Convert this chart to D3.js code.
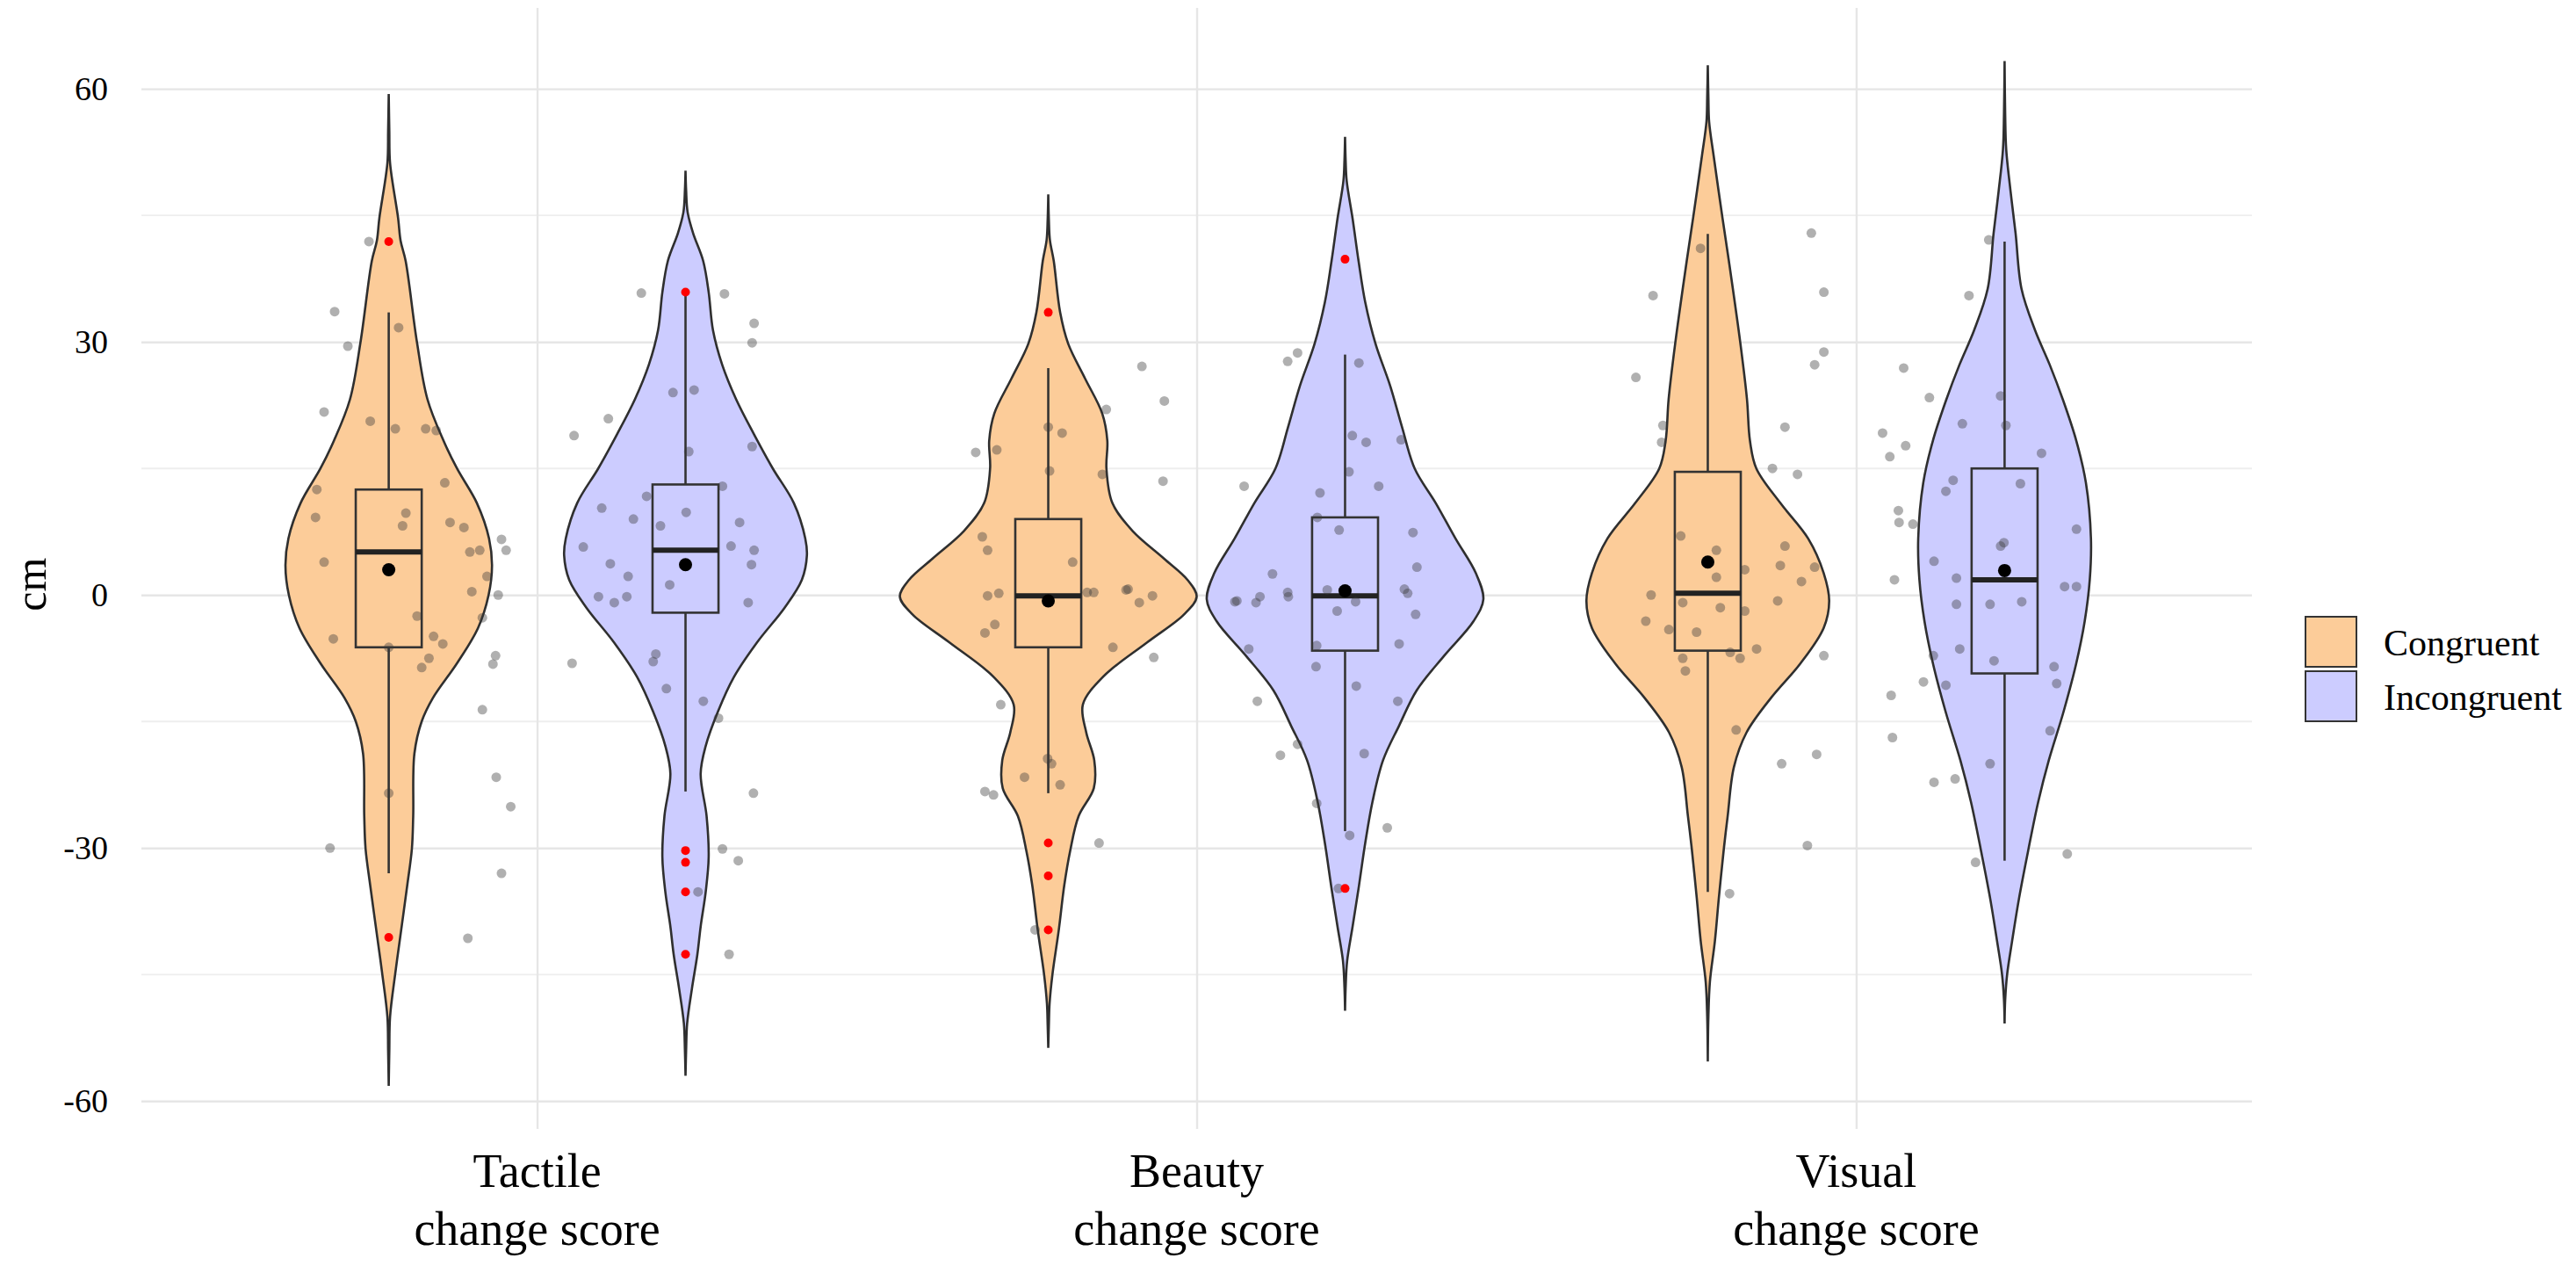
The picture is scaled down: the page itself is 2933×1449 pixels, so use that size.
<!DOCTYPE html>
<html>
<head>
<meta charset="utf-8">
<script src="https://cdn.jsdelivr.net/npm/d3@7"></script>
<style>
  body { margin: 0; background: #fff; }
  svg text { font-family: "Liberation Serif", "DejaVu Serif", serif; fill: #000; }
</style>
</head>
<body>
<div id="chart"></div>
<script>
// ---- data ----
const categories = ["Tactile", "Beauty", "Visual"];
const categorySuffix = "change score";
const groups = ["Congruent", "Incongruent"];
const groupColors = ["#FCCC99", "#CCCCFF"];
const yTicks = [60, 30, 0, -30, -60];
const yMinorTicks = [45, 15, -15, -45];

// boxplot stats, indexed [category][group]
const whiskerLow  = [[-33.0, -23.3], [-23.5, -28.0], [-35.2, -31.5]];
const q1          = [[-6.2, -2.1],   [-6.2, -6.6],   [-6.6, -9.3]];
const medians     = [[5.1, 5.3],     [-0.1, -0.1],   [0.2, 1.8]];
const q3          = [[12.5, 13.1],   [9.0, 9.2],     [14.6, 15.0]];
const whiskerHigh = [[33.5, 35.9],   [26.9, 28.5],   [42.8, 41.9]];
const means       = [[3.0, 3.6],     [-0.7, 0.5],    [3.9, 2.9]];
const outliers    = [
  [[41.9, -40.6], [35.9, -30.3, -31.7, -35.2, -42.6]],
  [[33.5, -29.4, -33.3, -39.7], [39.8, -34.8]],
  [[], []]
];

// violin outlines: [value, relative density]
const densTactileCon = [[59.4,0],[55,0.004],[51.2,0.009],[44.7,0.063],[42,0.08],[39.6,0.114],[30,0.19],[23.2,0.261],[18.3,0.369],[15,0.46],[10.9,0.594],[6.7,0.676],[3.5,0.696],[0,0.673],[-3.9,0.602],[-8.1,0.46],[-12.2,0.298],[-15,0.222],[-18.8,0.173],[-26.2,0.165],[-30.1,0.156],[-34.4,0.125],[-40.6,0.077],[-45,0.043],[-50,0.009],[-54,0.004],[-58.2,0]];
const densTactileInc = [[50.3,0],[48,0.004],[45.4,0.014],[42.9,0.051],[39.6,0.119],[35.9,0.156],[31.4,0.185],[27.3,0.247],[23.2,0.341],[19.1,0.46],[15,0.588],[10.9,0.73],[6.7,0.807],[4.7,0.818],[1.8,0.784],[-1.5,0.668],[-5.6,0.483],[-9.7,0.327],[-13.8,0.219],[-17.9,0.136],[-21.2,0.102],[-26.2,0.142],[-31.1,0.156],[-35.2,0.136],[-39.3,0.102],[-42.6,0.08],[-46.7,0.043],[-50.8,0.011],[-54,0.004],[-57,0]];
const densBeautyCon = [[47.5,0],[44.5,0.004],[42.1,0.011],[39.6,0.037],[33.5,0.08],[29.8,0.134],[25.7,0.247],[21.5,0.364],[18.3,0.398],[15,0.392],[10.9,0.432],[7.6,0.568],[4.3,0.781],[1.8,0.938],[-0.2,1.0],[-2.3,0.915],[-5.6,0.668],[-9.7,0.369],[-13,0.233],[-16.3,0.256],[-19.6,0.31],[-22.9,0.307],[-26.2,0.205],[-30.3,0.148],[-34.4,0.108],[-39.7,0.071],[-45,0.028],[-48.4,0.009],[-51,0.004],[-53.7,0]];
const densBeautyInc = [[54.3,0],[51.5,0.004],[49.1,0.011],[44.6,0.051],[39.6,0.091],[34.7,0.136],[29.8,0.205],[24.8,0.304],[19.9,0.384],[15,0.469],[10.9,0.611],[6.7,0.744],[2.6,0.881],[-0.5,0.932],[-3.1,0.866],[-7.2,0.668],[-11.3,0.483],[-15.5,0.364],[-19.6,0.256],[-24.5,0.185],[-29.4,0.136],[-34.8,0.091],[-39.3,0.051],[-43.4,0.014],[-46.5,0.004],[-49.3,0]];
const densVisualCon = [[62.8,0],[59,0.004],[56.1,0.009],[52,0.04],[44.7,0.099],[39.6,0.142],[29.9,0.219],[23.2,0.264],[18.3,0.284],[15,0.327],[10.9,0.489],[6.7,0.676],[2.6,0.781],[-0.7,0.818],[-3.9,0.781],[-8.1,0.625],[-12.2,0.426],[-16.3,0.261],[-20.4,0.176],[-26.2,0.134],[-30.1,0.108],[-36,0.074],[-41,0.048],[-45.9,0.014],[-50,0.004],[-55.3,0]];
const densVisualInc = [[63.3,0],[57,0.004],[52.8,0.011],[47.9,0.04],[42.9,0.074],[36.3,0.114],[31.4,0.205],[27.3,0.304],[23.2,0.392],[18.3,0.483],[13.3,0.548],[6.7,0.582],[1.8,0.574],[-3.1,0.54],[-8.1,0.483],[-13.8,0.398],[-19.6,0.298],[-24.5,0.227],[-30.3,0.159],[-36,0.097],[-41,0.051],[-45,0.017],[-48,0.004],[-50.8,0]];

// jittered raw points: [horizontal jitter in category steps, value]
const ptsTactileCon = [[-0.030,41.9],[-0.082,33.6],[-0.062,29.5],[0.015,31.7],[-0.098,21.7],[-0.028,20.6],[0.010,19.7],[0.056,19.7],[0.072,19.5],[-0.109,12.5],[-0.111,9.2],[0.085,13.3],[0.026,9.7],[0.021,8.2],[0.093,8.6],[0.114,8.0],[0.123,5.1],[0.138,5.3],[0.171,6.6],[0.178,5.3],[-0.098,3.9],[0.149,2.2],[0.126,0.4],[0.166,0.0],[0.043,-2.5],[0.142,-2.7],[-0.084,-5.2],[0.068,-4.9],[0.082,-5.8],[0.050,-8.6],[0.061,-7.5],[0.158,-8.2],[0.162,-7.2],[0.142,-13.6],[0.000,-6.2],[0.000,-23.5],[0.163,-21.6],[0.185,-25.1],[-0.089,-30.0],[0.171,-33.0],[0.120,-40.7]];
const ptsTactileInc = [[-0.067,35.8],[0.059,35.7],[0.104,32.2],[0.101,29.9],[-0.019,24.0],[0.013,24.3],[-0.117,20.9],[-0.169,18.9],[0.005,17.0],[0.101,17.6],[-0.059,11.7],[-0.127,10.3],[-0.079,9.0],[-0.038,8.2],[0.001,9.8],[0.056,12.9],[0.082,8.6],[-0.155,5.7],[-0.114,3.7],[-0.087,2.2],[0.069,5.8],[0.104,5.3],[0.100,3.6],[-0.132,-0.2],[-0.108,-0.9],[-0.089,-0.2],[-0.024,1.2],[0.095,-0.9],[-0.172,-8.1],[-0.045,-7.0],[-0.049,-7.9],[-0.029,-11.1],[0.027,-12.6],[0.050,-14.6],[0.103,-23.5],[0.056,-30.1],[0.080,-31.5],[0.019,-35.2],[0.066,-42.6]];
const ptsBeautyCon = [[0.142,27.1],[0.176,23.0],[0.088,22.0],[-0.110,16.9],[-0.078,17.2],[0.000,19.9],[0.021,19.2],[0.002,14.7],[0.174,13.5],[0.082,14.3],[-0.100,6.9],[-0.092,5.3],[0.037,3.9],[-0.092,-0.1],[-0.075,0.2],[0.059,0.3],[0.069,0.3],[0.118,0.6],[0.121,0.7],[0.138,-0.9],[0.158,-0.1],[-0.081,-3.5],[-0.096,-4.5],[0.098,-6.2],[0.160,-7.4],[-0.072,-13.0],[-0.001,-19.4],[0.005,-20.0],[-0.036,-21.6],[0.018,-22.5],[-0.096,-23.3],[-0.083,-23.7],[0.077,-29.4],[-0.020,-39.7]];
const ptsBeautyInc = [[-0.087,27.7],[-0.072,28.7],[0.021,27.5],[0.011,18.9],[0.032,18.1],[0.085,18.4],[0.006,14.6],[-0.153,12.9],[-0.038,12.1],[0.051,12.9],[-0.009,7.7],[-0.042,9.2],[0.103,7.4],[0.109,3.3],[-0.110,2.5],[-0.087,0.3],[-0.086,-0.2],[-0.164,-0.7],[-0.167,-0.8],[-0.135,-0.9],[-0.129,-0.2],[-0.027,0.6],[-0.012,-1.9],[0.016,-0.8],[0.090,0.7],[0.095,0.2],[0.107,-2.3],[-0.043,-6.0],[0.082,-5.8],[-0.146,-6.4],[-0.044,-8.5],[0.017,-10.8],[-0.133,-12.6],[0.080,-12.6],[-0.072,-17.7],[-0.098,-19.0],[0.029,-18.8],[-0.043,-24.7],[0.007,-28.5],[0.064,-27.6],[-0.010,-34.8]];
const ptsVisualCon = [[-0.011,41.1],[0.157,42.9],[-0.083,35.5],[0.176,35.9],[-0.109,25.8],[0.162,27.3],[0.176,28.8],[-0.068,20.1],[-0.070,18.1],[0.117,19.9],[0.098,15.0],[0.136,14.3],[-0.041,7.0],[0.013,5.3],[0.117,5.8],[0.110,3.5],[0.056,3.0],[0.162,3.3],[0.142,1.6],[-0.086,0.0],[0.013,2.1],[-0.038,-0.9],[0.019,-1.5],[0.106,-0.7],[-0.094,-3.1],[-0.059,-4.1],[-0.017,-4.4],[0.056,-1.9],[0.074,-6.4],[0.034,-6.8],[0.049,-7.5],[-0.038,-7.5],[-0.034,-9.0],[0.176,-7.2],[0.043,-16.0],[0.112,-20.0],[0.165,-18.9],[0.151,-29.7],[0.033,-35.4]];
const ptsVisualInc = [[-0.024,42.1],[-0.054,35.5],[-0.153,26.9],[-0.114,23.4],[-0.006,23.6],[-0.064,20.3],[0.002,20.1],[-0.185,19.2],[-0.150,17.7],[-0.174,16.4],[0.056,16.8],[-0.078,13.6],[-0.089,12.3],[0.024,13.2],[-0.161,10.0],[-0.160,8.6],[-0.139,8.4],[0.109,7.8],[-0.107,4.0],[-0.006,5.8],[-0.001,6.2],[-0.073,2.0],[-0.167,1.8],[0.091,1.0],[0.109,1.0],[-0.073,-1.1],[-0.022,-1.1],[0.026,-0.8],[-0.068,-6.4],[-0.108,-7.2],[-0.016,-7.8],[0.075,-8.5],[-0.123,-10.3],[-0.089,-10.7],[0.079,-10.5],[-0.172,-11.9],[-0.170,-16.9],[0.069,-16.1],[-0.022,-20.0],[-0.107,-22.2],[-0.075,-21.8],[0.095,-30.7],[-0.044,-31.7]];

const densities = [[densTactileCon, densTactileInc], [densBeautyCon, densBeautyInc], [densVisualCon, densVisualInc]];
const jitterPoints = [[ptsTactileCon, ptsTactileInc], [ptsBeautyCon, ptsBeautyInc], [ptsVisualCon, ptsVisualInc]];

// ---- layout ----
const W = 2933, H = 1449;
const panel = {left: 161, right: 2564, top: 9, bottom: 1285};
const yDomain = [-63.3, 69.6];

const svg = d3.select("#chart").append("svg")
    .attr("width", W).attr("height", H)
    .attr("viewBox", `0 0 ${W} ${H}`);

const x = d3.scalePoint().domain(categories).range([panel.left, panel.right]).padding(0.6);
const step = x.step();
const dodge = d3.scaleBand().domain(groups).range([-0.45 * step, 0.45 * step]);
const y = d3.scaleLinear().domain(yDomain).range([panel.bottom, panel.top]);
const color = d3.scaleOrdinal().domain(groups).range(groupColors);

const groupX = (ci, gi) => x(categories[ci]) + dodge(groups[gi]) + dodge.bandwidth() / 2;
const halfViolin = dodge.bandwidth() / 2;
const halfBox = 0.05 * step;

// minor grid
svg.append("g").selectAll("line").data(yMinorTicks).join("line")
    .attr("x1", panel.left).attr("x2", panel.right)
    .attr("y1", d => y(d)).attr("y2", d => y(d))
    .attr("stroke", "#eeeeee").attr("stroke-width", 1.8);

// major y grid + labels
const yAxis = svg.append("g")
    .attr("transform", `translate(${panel.left},0)`)
    .call(d3.axisLeft(y).tickValues(yTicks).tickSize(-(panel.right - panel.left))
          .tickPadding(38).tickFormat(d => String(d)));
yAxis.select(".domain").remove();
yAxis.selectAll(".tick line").attr("stroke", "#e6e6e6").attr("stroke-width", 2.4);
yAxis.selectAll(".tick text")
    .attr("font-family", "Liberation Serif").attr("font-size", 38).attr("fill", "#111");

// vertical grid at categories
const xAxis = svg.append("g")
    .attr("transform", `translate(0,${panel.bottom})`)
    .call(d3.axisBottom(x).tickSize(-(panel.bottom - panel.top)).tickFormat(""));
xAxis.select(".domain").remove();
xAxis.selectAll(".tick line").attr("stroke", "#e6e6e6").attr("stroke-width", 2.4);

// x labels
const xl = svg.append("g").selectAll("text").data(categories).join("text")
    .attr("text-anchor", "middle").attr("font-size", 54)
    .attr("x", d => x(d)).attr("y", 1351);
xl.append("tspan").attr("x", d => x(d)).text(d => d);
xl.append("tspan").attr("x", d => x(d)).attr("dy", 66).text(categorySuffix);

// y title
svg.append("text")
    .attr("transform", `translate(52,${(y(0) - 12)}) rotate(-90)`)
    .attr("text-anchor", "middle").attr("font-size", 50).text("cm");

// flatten groups
const cells = [];
categories.forEach((c, ci) => groups.forEach((g, gi) => cells.push({ci, gi, cx: groupX(ci, gi)})));

// violins
const violinArea = cx => d3.area()
    .x0(d => cx - d[1] * halfViolin)
    .x1(d => cx + d[1] * halfViolin)
    .y(d => y(d[0]))
    .curve(d3.curveCatmullRom.alpha(0.5));

svg.append("g").selectAll("path").data(cells).join("path")
    .attr("d", d => violinArea(d.cx)(densities[d.ci][d.gi]))
    .attr("fill", d => color(groups[d.gi]))
    .attr("stroke", "#2f2f2f").attr("stroke-width", 2.6);

// boxplots
const boxes = svg.append("g").selectAll("g").data(cells).join("g");
boxes.append("line")
    .attr("x1", d => d.cx).attr("x2", d => d.cx)
    .attr("y1", d => y(q3[d.ci][d.gi])).attr("y2", d => y(whiskerHigh[d.ci][d.gi]))
    .attr("stroke", "#333").attr("stroke-width", 2.6);
boxes.append("line")
    .attr("x1", d => d.cx).attr("x2", d => d.cx)
    .attr("y1", d => y(q1[d.ci][d.gi])).attr("y2", d => y(whiskerLow[d.ci][d.gi]))
    .attr("stroke", "#333").attr("stroke-width", 2.6);
boxes.append("rect")
    .attr("x", d => d.cx - halfBox).attr("width", 2 * halfBox)
    .attr("y", d => y(q3[d.ci][d.gi]))
    .attr("height", d => y(q1[d.ci][d.gi]) - y(q3[d.ci][d.gi]))
    .attr("fill", "none").attr("stroke", "#333").attr("stroke-width", 2.6);
boxes.append("line")
    .attr("x1", d => d.cx - halfBox).attr("x2", d => d.cx + halfBox)
    .attr("y1", d => y(medians[d.ci][d.gi])).attr("y2", d => y(medians[d.ci][d.gi]))
    .attr("stroke", "#222").attr("stroke-width", 6);

// jittered points
svg.append("g").selectAll("g").data(cells).join("g")
  .selectAll("circle").data(d => jitterPoints[d.ci][d.gi].map(p => ({cx: d.cx, p})))
  .join("circle")
    .attr("cx", d => d.cx + d.p[0] * step)
    .attr("cy", d => y(d.p[1]))
    .attr("r", 5.5)
    .attr("fill", "#3a3a3a").attr("fill-opacity", 0.4);

// outliers (red)
svg.append("g").selectAll("g").data(cells).join("g")
  .selectAll("circle").data(d => outliers[d.ci][d.gi].map(v => ({cx: d.cx, v})))
  .join("circle")
    .attr("cx", d => d.cx).attr("cy", d => y(d.v))
    .attr("r", 5).attr("fill", "#ff0000");

// means
svg.append("g").selectAll("circle").data(cells).join("circle")
    .attr("cx", d => d.cx).attr("cy", d => y(means[d.ci][d.gi]))
    .attr("r", 7.5).attr("fill", "#000");

// legend
const legend = svg.append("g").attr("transform", "translate(2625,702)");
const li = legend.selectAll("g").data(groups).join("g")
    .attr("transform", (d, i) => `translate(0,${i * 62})`);
li.append("rect").attr("width", 58).attr("height", 57)
    .attr("fill", d => color(d)).attr("stroke", "#333").attr("stroke-width", 2);
li.append("text").attr("x", 89).attr("y", 29).attr("dy", "0.35em")
    .attr("font-size", 42).text(d => d);
</script>
</body>
</html>
